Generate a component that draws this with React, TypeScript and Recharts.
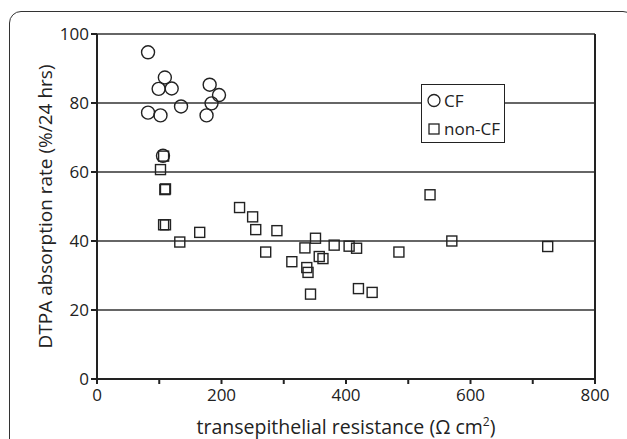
import React from "react";
import {
  ScatterChart,
  Scatter,
  XAxis,
  YAxis,
  CartesianGrid,
  ReferenceLine,
  Label,
} from "recharts";

// valores (resistência em Ω cm², absorção em %/24 h)
const cfX = [82, 109, 99, 120, 135, 82, 102, 181, 196, 184, 176, 106];
const cfY = [94.7, 87.4, 84.1, 84.2, 79.0, 77.2, 76.4, 85.3, 82.3, 79.9, 76.4, 64.7];

const nonCfX = [
  107, 102, 110, 109, 107, 110, 133, 165, 229, 250, 255, 271, 289, 313, 334,
  351, 337, 339, 357, 363, 343, 381, 405, 417, 420, 442, 485, 535, 570, 724,
];
const nonCfY = [
  64.6, 60.7, 55.1, 54.9, 44.7, 44.7, 39.7, 42.5, 49.7, 47.0, 43.3, 36.8, 43.0,
  34.0, 38.0, 40.8, 32.3, 30.9, 35.5, 34.9, 24.6, 38.8, 38.5, 37.9, 26.2, 25.1,
  36.8, 53.4, 40.0, 38.4,
];

const xTicks = [0, 100, 200, 300, 400, 500, 600, 700, 800];
const xTickLabels = ["0", "", "200", "", "400", "", "600", "", "800"];
const yTicks = [0, 20, 40, 60, 80, 100];

const cfData = cfX.map((x, i) => ({ x, y: cfY[i] }));
const nonCfData = nonCfX.map((x, i) => ({ x, y: nonCfY[i] }));

const FONT = "'Open Sans', sans-serif";
const INK = "#222";

const CircleMark = (props: any) => (
  <circle cx={props.cx} cy={props.cy} r={6.5} fill="none" stroke={INK} strokeWidth={1.4} />
);

const SquareMark = (props: any) => (
  <rect x={props.cx - 5} y={props.cy - 5} width={10} height={10} fill="none" stroke={INK} strokeWidth={1.4} />
);

// legenda desenhada à parte, por cima do gráfico
const LegendBox = () => (
  <div
    style={{
      position: "absolute",
      left: 421,
      top: 84,
      width: 82,
      height: 57,
      border: `1.5px solid ${INK}`,
      background: "#fff",
      fontFamily: FONT,
      fontSize: 17,
      color: "#222",
    }}
  >
    <div style={{ display: "flex", alignItems: "center", height: 31, paddingLeft: 5 }}>
      <svg width={15} height={15}>
        <circle cx={7} cy={7.5} r={6} fill="none" stroke={INK} strokeWidth={1.3} />
      </svg>
      <span style={{ marginLeft: 2 }}>CF</span>
    </div>
    <div style={{ display: "flex", alignItems: "center", height: 24, paddingLeft: 5 }}>
      <svg width={15} height={15}>
        <rect x={2} y={3} width={10} height={10} fill="none" stroke={INK} strokeWidth={1.3} />
      </svg>
      <span style={{ marginLeft: 2 }}>non-CF</span>
    </div>
  </div>
);

const XTitle = (props: any) => {
  const { viewBox } = props;
  const cx = viewBox.x + viewBox.width / 2;
  return (
    <text x={cx} y={434} textAnchor="middle" fontFamily={FONT} fontSize={19.5} fill="#222">
      transepithelial resistance (Ω cm
      <tspan dy={-8} fontSize={12}>2</tspan>
      <tspan dy={8}>)</tspan>
    </text>
  );
};

export default function App() {
  return (
    <div style={{ position: "absolute", left: 0, top: 0, width: 627, height: 439, overflow: "hidden", background: "#fff" }}>
      <div
        style={{
          position: "absolute",
          left: 9,
          top: 11,
          width: 624,
          height: 440,
          border: "1.5px solid #333",
          borderRadius: 12,
        }}
      />
      <div style={{ position: "absolute", left: 0, top: 0 }}>
        <ScatterChart width={627} height={439} margin={{ top: 34, right: 32, bottom: 0, left: 37 }}>
          <CartesianGrid horizontal vertical={false} stroke="#333" strokeWidth={1.3} />
          <XAxis
            type="number"
            dataKey="x"
            domain={[0, 800]}
            ticks={xTicks}
            tickFormatter={(v: number) => xTickLabels[xTicks.indexOf(v)]}
            interval={0}
            height={60}
            stroke={INK}
            strokeWidth={2}
            tickSize={5}
            tickMargin={5}
            tick={{ fontFamily: FONT, fontSize: 17, fill: "#222" }}
          >
            <Label content={<XTitle />} />
          </XAxis>
          <YAxis
            type="number"
            dataKey="y"
            domain={[0, 100]}
            ticks={yTicks}
            interval={0}
            width={60}
            stroke={INK}
            strokeWidth={2}
            tickSize={6}
            tick={{ fontFamily: FONT, fontSize: 17, fill: "#222" }}
          >
            <Label
              value="DTPA absorption rate (%/24 hrs)"
              angle={-90}
              position="insideLeft"
              offset={8}
              style={{ textAnchor: "middle", fontFamily: FONT, fontSize: 19, fill: "#222" }}
            />
          </YAxis>
          <ReferenceLine x={800} stroke={INK} strokeWidth={2} />
          <Scatter name="CF" data={cfData} shape={<CircleMark />} isAnimationActive={false} />
          <Scatter name="non-CF" data={nonCfData} shape={<SquareMark />} isAnimationActive={false} />
        </ScatterChart>
      </div>
      <LegendBox />
    </div>
  );
}
